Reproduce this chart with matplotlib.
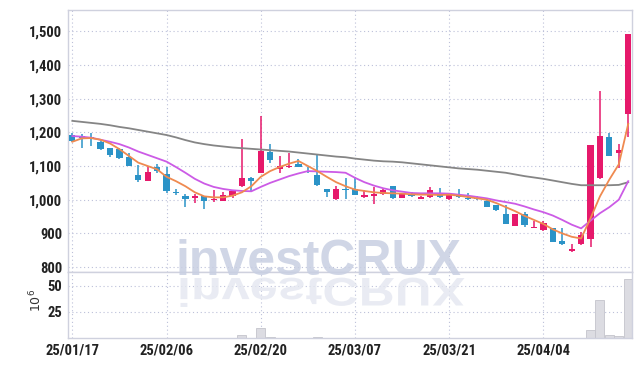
import numpy as np
import matplotlib.pyplot as plt
from matplotlib.textpath import TextPath
from matplotlib.patches import PathPatch
from matplotlib.font_manager import FontProperties
from matplotlib.transforms import Affine2D, IdentityTransform
from matplotlib.ticker import FuncFormatter

# ----------------------------------------------------------------------
# donnees (60 seances)
# ----------------------------------------------------------------------
dates = ["25/01/17", "25/01/20", "25/01/21", "25/01/22", "25/01/23", "25/01/24",
         "25/01/31", "25/02/03", "25/02/04", "25/02/05", "25/02/06", "25/02/07",
         "25/02/10", "25/02/11", "25/02/12", "25/02/13", "25/02/14", "25/02/17",
         "25/02/18", "25/02/19", "25/02/20", "25/02/21", "25/02/24", "25/02/25",
         "25/02/26", "25/02/27", "25/02/28", "25/03/04", "25/03/05", "25/03/06",
         "25/03/07", "25/03/10", "25/03/11", "25/03/12", "25/03/13", "25/03/14",
         "25/03/17", "25/03/18", "25/03/19", "25/03/20", "25/03/21", "25/03/24",
         "25/03/25", "25/03/26", "25/03/27", "25/03/28", "25/03/31", "25/04/01",
         "25/04/02", "25/04/03", "25/04/04", "25/04/07", "25/04/08", "25/04/09",
         "25/04/10", "25/04/11", "25/04/14", "25/04/15", "25/04/16", "25/04/17"]

ouv = [1192, 1189, 1187, 1171, 1152, 1150, 1127, 1073, 1056, 1096,
       1076, 1022, 1011, 1006, 1011, 998, 997, 1011, 1041, 1064,
       1080, 1142, 1090, 1097, 1107, 1085, 1073, 1032, 1001, 1032,
       1032, 1008, 1012, 1016, 1041, 1006, 1017, 1003, 1007, 1019,
       1002, 1012, 1004, 1006, 996, 984, 958, 923, 957, 917,
       910, 915, 878, 847, 869, 883, 1065, 1187, 1138, 1254]
haut = [1199, 1195, 1199, 1177, 1154, 1152, 1138, 1103, 1100, 1105,
        1096, 1032, 1017, 1017, 1012, 1029, 1024, 1027, 1179, 1068,
        1248, 1164, 1130, 1138, 1120, 1098, 1133, 1033, 1042, 1063,
        1067, 1030, 1039, 1032, 1042, 1021, 1023, 1012, 1037, 1034,
        1017, 1031, 1021, 1011, 1002, 985, 984, 959, 964, 938,
        937, 916, 915, 868, 905, 1162, 1322, 1197, 1164, 1492]
bas = [1172, 1153, 1159, 1147, 1126, 1121, 1100, 1052, 1055, 1080,
       1021, 1014, 977, 989, 971, 994, 996, 1004, 1037, 1024,
       1078, 1108, 1080, 1094, 1097, 1080, 1041, 1009, 1000, 1001,
       1013, 1005, 987, 1015, 1003, 1004, 1008, 1002, 1005, 1006,
       1000, 1006, 1000, 1000, 978, 968, 927, 922, 920, 916,
       908, 874, 867, 845, 867, 859, 1061, 1130, 1093, 1185]
ferm = [1175, 1184, 1181, 1151, 1134, 1123, 1101, 1058, 1082, 1085,
        1026, 1020, 1003, 1010, 997, 1001, 1014, 1026, 1063, 1057,
        1144, 1118, 1100, 1100, 1098, 1083, 1044, 1024, 1033, 1030,
        1015, 1014, 1018, 1029, 1005, 1019, 1010, 1008, 1029, 1008,
        1015, 1007, 1001, 1001, 979, 969, 928, 958, 924, 920,
        932, 875, 868, 853, 895, 1162, 1189, 1131, 1147, 1492]

# moyennes mobiles
mm_orange = [1172, 1182, 1183, 1178, 1167, 1150, 1130, 1110, 1100, 1090,
             1068, 1055, 1040, 1022, 1010, 1007, 1007, 1012, 1022, 1040,
             1068, 1085, 1097, 1107, 1115, 1100, 1085, 1068, 1052, 1040,
             1030, 1026, 1022, 1020, 1019, 1018, 1016, 1015, 1015, 1014,
             1015, 1012, 1008, 1004, 1000, 990, 978, 966, 952, 940,
             928, 912, 900, 890, 885, 945, 1010, 1060, 1105, 1225]
mm_violet = [1189, 1187, 1184, 1178, 1172, 1165, 1155, 1143, 1133, 1123,
             1113, 1097, 1080, 1062, 1048, 1038, 1032, 1028, 1026, 1025,
             1038, 1050, 1060, 1070, 1078, 1085, 1084, 1083, 1082, 1080,
             1065, 1052, 1042, 1034, 1028, 1024, 1020, 1019, 1019, 1019,
             1018, 1015, 1012, 1008, 1004, 998, 993, 988, 980, 971,
             963, 953, 940, 926, 915, 938, 960, 978, 1000, 1055]
mm_gris = [1234, 1231, 1228, 1225, 1221, 1216, 1212, 1207, 1202, 1197,
           1192, 1185, 1177, 1170, 1165, 1161, 1158, 1155, 1153, 1151,
           1149, 1147, 1145, 1143, 1140, 1137, 1134, 1131, 1128, 1126,
           1122, 1119, 1116, 1114, 1113, 1111, 1108, 1105, 1102, 1099,
           1096, 1093, 1091, 1089, 1086, 1083, 1080, 1075, 1070, 1066,
           1062, 1057, 1052, 1047, 1043, 1043, 1043, 1043, 1044, 1052]

# volume en millions
volume = [0.3] * 60
volume[18] = 3.3
volume[20] = 10.0
volume[21] = 1.4
volume[26] = 1.0
volume[55] = 8.0
volume[56] = 36.6
volume[57] = 3.3
volume[58] = 2.2
volume[59] = 56.0

prix_ticks = [800, 900, 1000, 1100, 1200, 1300, 1400, 1500]
vol_ticks = [25, 50]

# ----------------------------------------------------------------------
ROUGE = "#e6196b"
BLEU = "#2b93c7"
GRILLE = "#bcc0d9"
BORD = "#cfd1de"
POLICE = ["Liberation Sans Narrow", "Roboto Condensed", "Roboto", "DejaVu Sans"]

fig = plt.figure(figsize=(6.42, 3.66), dpi=100)
ax = fig.add_axes([68 / 642, 1 - 272 / 366, 564 / 642, 262 / 366])
axv = fig.add_axes([68 / 642, 1 - 338 / 366, 564 / 642, 66 / 366], sharex=ax)

x = np.arange(len(ferm))
o = np.array(ouv, float)
c = np.array(ferm, float)
hausse = c >= o
couleurs = np.where(hausse, ROUGE, BLEU)

bas_corps = np.minimum(o, c)
haut_corps = np.maximum(o, c) - bas_corps
haut_corps = np.maximum(haut_corps, 2.5)

ax.vlines(x, bas, haut, colors=couleurs, lw=1.1, zorder=2)
ax.bar(x, haut_corps, bottom=bas_corps, width=0.66, color=couleurs, zorder=3)

ax.plot(x, mm_gris, color="#858585", lw=1.3, zorder=4)
ax.plot(x, mm_violet, color="#cc5be6", lw=1.3, zorder=4)
ax.plot(x, mm_orange, color="#ef8a50", lw=1.3, zorder=5)

axv.bar(x, volume, width=0.95, color="#dcdce2", edgecolor="#c4c4cc", lw=0.6)

ax.set_xlim(-0.46, 59.4)
ax.set_ylim(785.5, 1563)
axv.set_ylim(0, 63)

ax.set_yticks(prix_ticks)
ax.yaxis.set_major_formatter(FuncFormatter(lambda v, p: f"{int(v):,}"))
axv.set_yticks(vol_ticks)
pos = list(range(0, 60, 10))
axv.set_xticks(pos)
axv.set_xticklabels([dates[i] for i in pos])
plt.setp(ax.get_xticklabels(), visible=False)

for a in (ax, axv):
    a.grid(True, color=GRILLE, lw=0.8, linestyle=(0, (1, 2.5)))
    a.set_axisbelow(True)
    a.tick_params(length=0, labelsize=10.5, labelcolor="#222222", pad=4)
    for s in a.spines.values():
        s.set_color(BORD)
        s.set_linewidth(1.0)
    for lab in a.get_xticklabels() + a.get_yticklabels():
        lab.set_family(POLICE)
        lab.set_fontweight("bold")

fig.text(36 / 642, 1 - 300 / 366, r"$10^6$", rotation=90, ha="center",
         va="center", fontsize=9, color="#333333")

# filigrane et son reflet
fp = FontProperties(family="Liberation Sans", weight="bold")
fig.text(176 / 642, 1 - 275 / 366, "investCRUX", fontproperties=fp,
         fontsize=36, color="#c8cfe2", alpha=0.85, zorder=10)
tp = TextPath((0, 0), "investCRUX", size=50, prop=fp)
larg = tp.get_extents().width
reflet = Affine2D().scale(284 / larg, -0.8).translate(177, 366 - 278)
fig.patches.append(PathPatch(tp, transform=reflet + IdentityTransform(),
                             facecolor="#e4e7f0", edgecolor="none", alpha=0.8,
                             zorder=10))

fig.savefig("out.png", dpi=100)
